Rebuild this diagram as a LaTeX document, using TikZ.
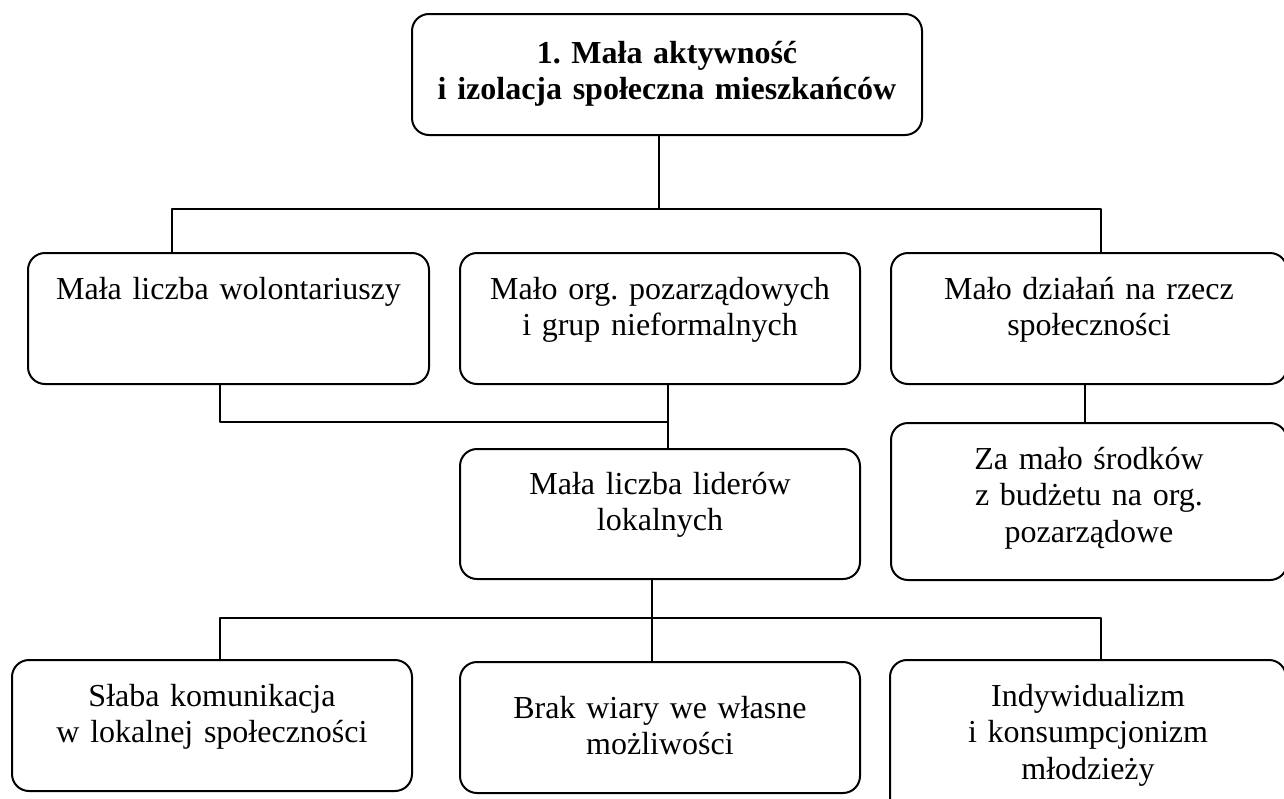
\documentclass[tikz,border=0pt]{standalone}
\usepackage{fontspec}
\setmainfont{Liberation Serif}
\usepackage{tikz}
\usetikzlibrary{
    positioning,
    calc
}
\definecolor{ink}{HTML}{000000}
\frenchspacing

\begin{document}
\begin{tikzpicture}[
    x=0.5pt, y=-0.5pt,
    line cap=butt, line join=round,
    %% --- semantic styles ---
    causebox/.style = {rectangle, draw=ink, line width=1pt, fill=white,
                       rounded corners=8.5pt, anchor=north,
                       align=center, inner xsep=4pt, inner ysep=0pt,
                       font=\fontsize{16}{18.4}\selectfont,
                       text height=23pt, text depth=42.5pt},
    rootbox/.style  = {causebox, font=\fontsize{16}{18.4}\selectfont\bfseries,
                       text height=24.5pt, text depth=36pt},
    link/.style     = {draw=ink, line width=1pt}
]
\useasboundingbox (0,0) rectangle (1284,798);
\clip (0,0) rectangle (1284,798);

%% =====================================================
%% ROOT PROBLEM
%% =====================================================
\node[rootbox, text width=247pt] (ROOT) at (667,13)
    {1. Mała aktywność\\ i izolacja społeczna mieszkańców};

%% =====================================================
%% SECOND LEVEL
%% =====================================================
\node[causebox, text width=192.5pt] (VOL) at (228.5,252)
    {Mała liczba wolontariuszy};
\node[causebox, text width=192pt] (NGO) at (660,252)
    {Mało org. pozarządowych\\ i grup nieformalnych};
\node[causebox, text width=190pt] (ACT) at (1089,252)
    {Mało działań na rzecz\\ społeczności};

%% =====================================================
%% THIRD LEVEL
%% =====================================================
\node[causebox, text width=192pt, text height=22.5pt] (LEAD) at (660,448)
    {Mała liczba liderów\\ lokalnych};
\node[causebox, text width=190pt, text depth=55.5pt] (FUND) at (1089,422)
    {Za mało środków\\ z budżetu na org.\\ pozarządowe};

%% =====================================================
%% ROOT CAUSES
%% =====================================================
\node[causebox, text width=192pt] (COMM) at (212,659)
    {Słaba komunikacja\\ w lokalnej społeczności};
\node[causebox, text width=192pt, text height=28pt, text depth=37.5pt] (FAITH) at (660,661)
    {Brak wiary we własne\\ możliwości};
\node[causebox, text width=190pt, text depth=60pt] (INDV) at (1088,659)
    {Indywidualizm\\ i konsumpcjonizm\\ młodzieży};

%% =====================================================
%% Connectors
%% =====================================================
\coordinate (J1) at (659,209);
\coordinate (J2) at (668,422);
\coordinate (J3) at (652,618);

\draw[link] (ROOT.south -| J1) -- (J1);
\draw[link] (VOL.north -| 172,0) |- (J1) -| (ACT.north -| 1101,0);

\draw[link] (VOL.south -| 220,0) |- (J2);
\draw[link] (NGO.south -| J2) -- (LEAD.north -| J2);
\draw[link] (ACT.south -| 1085,0) -- (FUND.north -| 1085,0);

\draw[link] (LEAD.south -| J3) -- (FAITH.north -| J3);
\draw[link] (COMM.north -| 220,0) |- (J3) -| (INDV.north -| 1101,0);

\end{tikzpicture}
\end{document}
